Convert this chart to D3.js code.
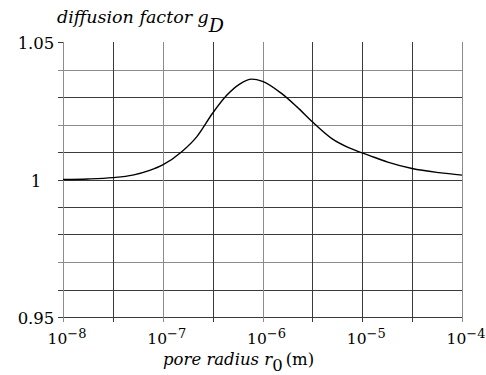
<!DOCTYPE html>
<html>
<head>
<meta charset="utf-8">
<script src="https://cdn.jsdelivr.net/npm/d3@7"></script>
<style>
  body { margin: 0; background: #fff; }
  text { font-family: "DejaVu Serif", serif; fill: #000; }
</style>
</head>
<body>
<svg id="chart" width="486" height="375"></svg>
<script>
// pore radius (m) and diffusion factor
const radius = [1e-8, 1.78e-8, 3.16e-8, 5e-8, 7.4e-8, 1e-7, 1.55e-7, 2.2e-7, 3.16e-7, 4.4e-7, 5.9e-7, 7.8e-7, 1e-6, 1.55e-6, 2.2e-6, 3.16e-6, 5e-6, 7.4e-6, 1.17e-5, 1.8e-5, 3.16e-5, 5.9e-5, 1e-4];
const gD = [1.0, 1.0002, 1.0007, 1.0016, 1.0033, 1.0053, 1.0101, 1.0156, 1.0241, 1.0307, 1.0347, 1.0365, 1.0357, 1.0313, 1.0265, 1.021, 1.0148, 1.0115, 1.0088, 1.0063, 1.004, 1.0025, 1.0016];

const xGrid = [1e-8, 3.162e-8, 1e-7, 3.162e-7, 1e-6, 3.162e-6, 1e-5, 3.162e-5, 1e-4];
const xLabels = [[1e-8, "−8"], [1e-7, "−7"], [1e-6, "−6"], [1e-5, "−5"], [1e-4, "−4"]];
const yGrid = [0.95, 0.96, 0.97, 0.98, 0.99, 1.0, 1.01, 1.02, 1.03, 1.04, 1.05];
const yLabels = [[1.05, "1.05"], [1.0, "1"], [0.95, "0.95"]];
// scanned grid: some lines came out lighter
const lightY = [0.97, 1.02, 1.04];
const lightX = [0, 2, 4, 8];

const plotLeft = 63, plotRight = 462, plotTop = 42, plotBottom = 317;

const svg = d3.select("#chart");

const x = d3.scaleLog().domain([1e-8, 1e-4]).range([plotLeft, plotRight]);
const y = d3.scaleLinear().domain([0.95, 1.05]).range([plotBottom, plotTop]);

// horizontal grid (no line on top edge), with small ticks to the left
svg.append("g")
  .selectAll("line")
  .data(yGrid)
  .enter().append("line")
    .attr("x1", plotLeft - 5)
    .attr("x2", d => d === 1.05 ? plotLeft : plotRight)
    .attr("y1", d => Math.round(y(d)) + 0.5)
    .attr("y2", d => Math.round(y(d)) + 0.5)
    .attr("stroke", d => lightY.includes(d) ? "#8c8c8c" : "#3a3a3a")
    .attr("stroke-width", 1);

// vertical grid, with ticks below
svg.append("g")
  .selectAll("line")
  .data(xGrid)
  .enter().append("line")
    .attr("x1", d => Math.round(x(d)) + 0.5)
    .attr("x2", d => Math.round(x(d)) + 0.5)
    .attr("y1", plotTop)
    .attr("y2", plotBottom + 5)
    .attr("stroke", (d, i) => lightX.includes(i) ? "#8c8c8c" : "#3a3a3a")
    .attr("stroke-width", 1);

// y labels
svg.append("g")
  .selectAll("text")
  .data(yLabels)
  .enter().append("text")
    .attr("x", 36)
    .attr("y", d => y(d[0]) + 7)
    .attr("text-anchor", "middle")
    .attr("font-size", 16.5)
    .text(d => d[1]);

// x labels 10^n
const xl = svg.append("g")
  .selectAll("text")
  .data(xLabels)
  .enter().append("text")
    .attr("x", d => x(d[0]) + 4)
    .attr("y", 344)
    .attr("text-anchor", "middle")
    .attr("font-size", 15.5);
xl.append("tspan").text("10");
xl.append("tspan").attr("dy", -6).attr("font-size", 13).text(d => d[1]);

// curve
svg.append("path")
  .datum(radius.map((r, i) => [r, gD[i]]))
  .attr("fill", "none")
  .attr("stroke", "#000")
  .attr("stroke-width", 1.4)
  .attr("d", d3.line()
    .x(d => x(d[0]))
    .y(d => y(d[1]))
    .curve(d3.curveMonotoneX));

// title
const t = svg.append("text")
  .attr("x", 57)
  .attr("y", 23)
  .attr("font-size", 17.5)
  .attr("font-style", "italic");
t.append("tspan").text("diffusion factor g");
t.append("tspan").attr("dy", 9).attr("font-size", 19).text("D");

// x axis title
const xt = svg.append("text")
  .attr("x", 163)
  .attr("y", 365)
  .attr("font-size", 16.5);
xt.append("tspan").attr("font-style", "italic").text("pore radius r");
xt.append("tspan").attr("dy", 6).text("0");
xt.append("tspan").attr("dy", -6).attr("dx", 3).text("(m)");
</script>
</body>
</html>
